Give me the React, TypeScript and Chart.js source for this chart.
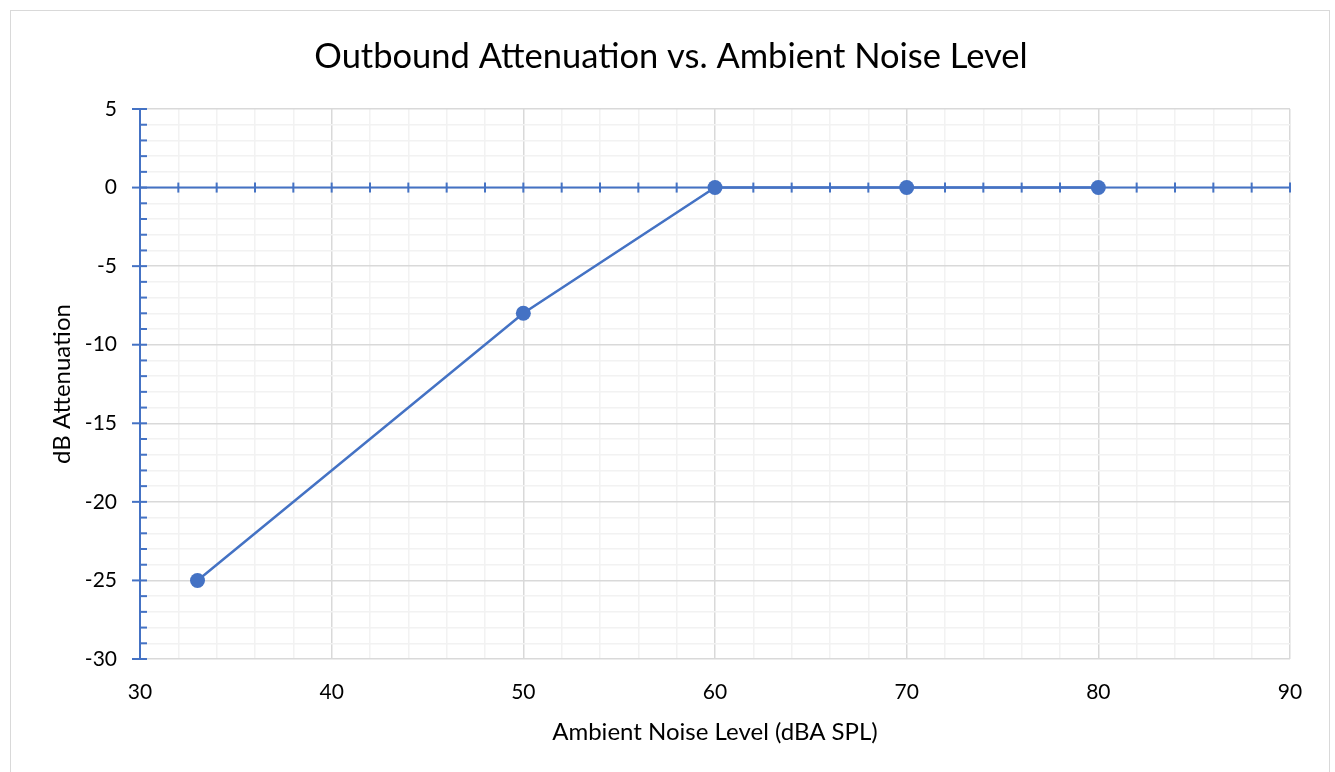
import React, { useEffect, useRef } from "react";
import { Chart, registerables } from "chart.js";

Chart.register(...registerables);

const noiseLevels = [33, 50, 60, 70, 80];
const attenuation = [-25, -8, 0, 0, 0];
const xRange = [30, 90];
const yRange = [-30, 5];
const titleText = "Outbound Attenuation vs. Ambient Noise Level";
const xTitle = "Ambient Noise Level (dBA SPL)";
const yTitle = "dB Attenuation";

const BLUE = "#4472C4";
const FONT = "Lato, 'Open Sans', sans-serif";

const axesPlugin = {
  id: "excelAxes",
  beforeDatasetsDraw(chart: any) {
    const { ctx, scales } = chart;
    const xs = scales.x;
    const ys = scales.y;
    const x0 = xs.getPixelForValue(xRange[0]);
    const x1 = xs.getPixelForValue(xRange[1]);
    const yTop = ys.getPixelForValue(yRange[1]);
    const yBot = ys.getPixelForValue(yRange[0]);
    const yZero = ys.getPixelForValue(0);
    ctx.save();
    ctx.strokeStyle = BLUE;
    ctx.lineWidth = 2;
    // vertical axis
    ctx.beginPath();
    ctx.moveTo(x0, yTop);
    ctx.lineTo(x0, yBot);
    ctx.stroke();
    for (let v = yRange[0]; v <= yRange[1]; v += 1) {
      const py = ys.getPixelForValue(v);
      ctx.beginPath();
      if (v % 5 === 0) {
        ctx.moveTo(x0 - 8, py);
        ctx.lineTo(x0 + 7, py);
      } else {
        ctx.moveTo(x0, py);
        ctx.lineTo(x0 + 7, py);
      }
      ctx.stroke();
    }
    // horizontal axis at 0
    ctx.beginPath();
    ctx.moveTo(x0, yZero);
    ctx.lineTo(x1, yZero);
    ctx.stroke();
    for (let v = xRange[0] + 2; v <= xRange[1]; v += 2) {
      const px = xs.getPixelForValue(v);
      ctx.beginPath();
      ctx.moveTo(px, yZero - 5);
      ctx.lineTo(px, yZero + 5);
      ctx.stroke();
    }
    ctx.restore();
  },
};

export default function App() {
  const canvasRef = useRef<HTMLCanvasElement>(null);

  useEffect(() => {
    if (!canvasRef.current) return;
    const chart = new Chart(canvasRef.current, {
      type: "scatter",
      data: {
        datasets: [
          {
            data: noiseLevels.map((x, i) => ({ x, y: attenuation[i] })),
            showLine: true,
            borderColor: BLUE,
            backgroundColor: BLUE,
            borderWidth: 2.5,
            pointRadius: 7.5,
            pointHoverRadius: 7.5,
            pointBorderWidth: 0,
            tension: 0,
          },
        ],
      },
      plugins: [axesPlugin],
      options: {
        animation: false,
        responsive: false,
        devicePixelRatio: 1,
        layout: { padding: { left: 10, right: 3, top: 0, bottom: 0 } },
        plugins: {
          legend: { display: false },
          tooltip: { enabled: false },
          title: {
            display: true,
            text: titleText,
            color: "#000",
            font: { family: FONT, size: 34.5, weight: "normal" },
            padding: { top: 36.3, bottom: 31.3 },
          },
        },
        scales: {
          x: {
            type: "linear",
            min: xRange[0],
            max: xRange[1],
            afterFit: (s: any) => {
              s.height = 113;
            },
            border: { display: false },
            grid: {
              drawTicks: false,
              lineWidth: 1.5,
              color: (c: any) => (c.tick && c.tick.value % 10 === 0 ? "#d9d9d9" : "#f2f2f2"),
            },
            ticks: {
              stepSize: 2,
              autoSkip: false,
              maxRotation: 0,
              padding: 21,
              color: "#000",
              font: { family: FONT, size: 21 },
              callback: (v: any) => (Number(v) % 10 === 0 ? String(v) : ""),
            },
            title: {
              display: true,
              text: xTitle,
              color: "#000",
              font: { family: FONT, size: 24 },
              padding: { top: 0, bottom: 25.6 },
            },
          },
          y: {
            type: "linear",
            min: yRange[0],
            max: yRange[1],
            afterFit: (s: any) => {
              s.width = 130;
            },
            border: { display: false },
            grid: {
              drawTicks: false,
              lineWidth: 1.5,
              color: (c: any) => (c.tick && c.tick.value % 5 === 0 ? "#d9d9d9" : "#f2f2f2"),
            },
            ticks: {
              stepSize: 1,
              autoSkip: false,
              padding: 23,
              color: "#000",
              font: { family: FONT, size: 21 },
              callback: (v: any) => (Number(v) % 5 === 0 ? String(v) : ""),
            },
            title: {
              display: true,
              text: yTitle,
              color: "#000",
              font: { family: FONT, size: 24 },
              padding: { top: 37.6, bottom: 0 },
            },
          },
          spacer: {
            type: "linear",
            position: "right",
            min: 0,
            max: 1,
            afterFit: (s: any) => {
              s.width = 42;
            },
            border: { display: false },
            grid: { display: false },
            ticks: { display: false },
          },
        },
      },
    });
    return () => chart.destroy();
  }, []);

  return (
    <div style={{ position: "absolute", left: 0, top: 0, width: 1335, height: 772, overflow: "hidden", background: "#fff" }}>
      <div
        style={{
          position: "absolute",
          left: 10,
          top: 10,
          width: 1320,
          height: 800,
          border: "1px solid #d9d9d9",
          boxSizing: "border-box",
        }}
      />
      <canvas ref={canvasRef} width={1335} height={772} style={{ position: "absolute", left: 0, top: 0 }} />
    </div>
  );
}
